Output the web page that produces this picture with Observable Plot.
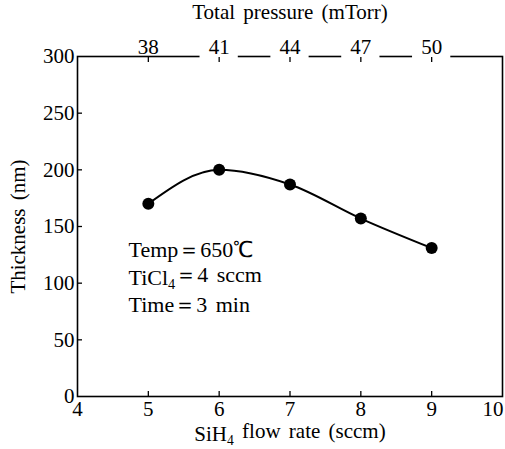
<!DOCTYPE html>
<html>
<head>
<meta charset="utf-8">
<script src="https://cdn.jsdelivr.net/npm/d3@7"></script>
<script src="https://cdn.jsdelivr.net/npm/@observablehq/plot@0.6"></script>
<style>
  html, body { margin: 0; padding: 0; background: #fff; }
  svg text { word-spacing: 3px; }
</style>
</head>
<body>
<div id="chart"></div>
<script>
// Data
const flowRate = [5, 6, 7, 8, 9];
const thickness = [170, 200, 187, 157, 131];
const xTicks = [4, 5, 6, 7, 8, 9];
const xLastTick = [10];
const yTicks = [0, 50, 100, 150, 200, 250, 300];
const pressureTicks = [5, 6, 7, 8, 9];
const pressureLabels = ["38", "41", "44", "47", "50"];
const noteLines = ["Temp\uFF1D650\u2103", "TiCl\u2084\uFF1D4 sccm", "Time\uFF1D3 min"];
const noteX = [4.72, 4.72, 4.72];
const noteY = [129, 105, 81];

const points = flowRate.map((x, i) => ({x, y: thickness[i]}));
const notes = noteLines.map((t, i) => ({t, x: noteX[i], y: noteY[i]}));
const inner = yTicks.slice(1, -1);
const FS = 21;

const chart = Plot.plot({
  width: 505,
  height: 449,
  marginLeft: 77,
  marginRight: 3,
  marginTop: 56,
  marginBottom: 53,
  style: {fontSize: FS + "px", fontFamily: "'Liberation Serif', serif", color: "#000", background: "#fff"},
  x: {domain: [4, 10]},
  y: {domain: [0, 300]},
  marks: [
    Plot.frame({stroke: "#000", strokeWidth: 1.6}),
    // bottom axis labels and inward ticks
    Plot.axisX({anchor: "bottom", ticks: xTicks, tickSize: 0, tickPadding: 5, tickFormat: d => String(d),
      label: "SiH\u2084 flow rate (sccm)", labelAnchor: "center", labelOffset: 44, labelArrow: "none", fontSize: FS}),
    Plot.axisX({anchor: "bottom", ticks: xLastTick, tickSize: 0, tickPadding: 5, tickFormat: d => String(d),
      textAnchor: "end", dx: 1, label: null, fontSize: FS}),
    Plot.axisX({anchor: "bottom", ticks: pressureTicks, tickSize: -5, tickFormat: () => "", label: null, strokeWidth: 1.3}),
    // left axis labels and inward ticks
    Plot.axisY({anchor: "left", ticks: yTicks, tickSize: 0, tickPadding: 3, tickFormat: d => String(d),
      label: "Thickness (nm)", labelAnchor: "center", labelOffset: 67, labelArrow: "none", fontSize: FS}),
    Plot.axisY({anchor: "left", ticks: inner, tickSize: -5, tickFormat: () => "", label: null, strokeWidth: 1.3}),
    // top pressure axis (frame line is broken around the later tick labels)
    Plot.ruleY(pressureTicks.slice(1), {y: () => 300, x1: d => d - 0.27, x2: d => d + 0.27, stroke: "#fff", strokeWidth: 4}),
    Plot.axisX({anchor: "top", ticks: pressureTicks, tickSize: -5, tickPadding: 8,
      tickFormat: d => pressureLabels[pressureTicks.indexOf(d)],
      label: "Total pressure (mTorr)", labelAnchor: "center", labelOffset: 52, labelArrow: "none", fontSize: FS, strokeWidth: 1.3}),
    // curve and points
    Plot.line(points, {x: "x", y: "y", curve: "monotone-x", stroke: "#000", strokeWidth: 2}),
    Plot.dot(points, {x: "x", y: "y", r: 6, fill: "#000", stroke: "none"}),
    // annotation
    Plot.text(notes, {x: "x", y: "y", text: "t", textAnchor: "start", fontSize: 22, fill: "#000"})
  ]
});
document.getElementById("chart").appendChild(chart);

// render subscript digits as real subscripts
d3.select(chart).selectAll("text").each(function() {
  const el = this;
  const targets = el.querySelectorAll("tspan").length ? Array.from(el.querySelectorAll("tspan")) : [el];
  targets.forEach(node => {
    if (node.childElementCount) return;
    const s = node.textContent;
    if (!s.includes("\u2084")) return;
    const parts = s.split("\u2084");
    node.textContent = "";
    parts.forEach((p, i) => {
      const a = document.createElementNS("http://www.w3.org/2000/svg", "tspan");
      a.textContent = p;
      if (i > 0) a.setAttribute("dy", "-0.3em");
      node.appendChild(a);
      if (i < parts.length - 1) {
        const b = document.createElementNS("http://www.w3.org/2000/svg", "tspan");
        b.textContent = "4";
        b.setAttribute("dy", "0.3em");
        b.setAttribute("font-size", "0.65em");
        node.appendChild(b);
      }
    });
  });
});
</script>
</body>
</html>
